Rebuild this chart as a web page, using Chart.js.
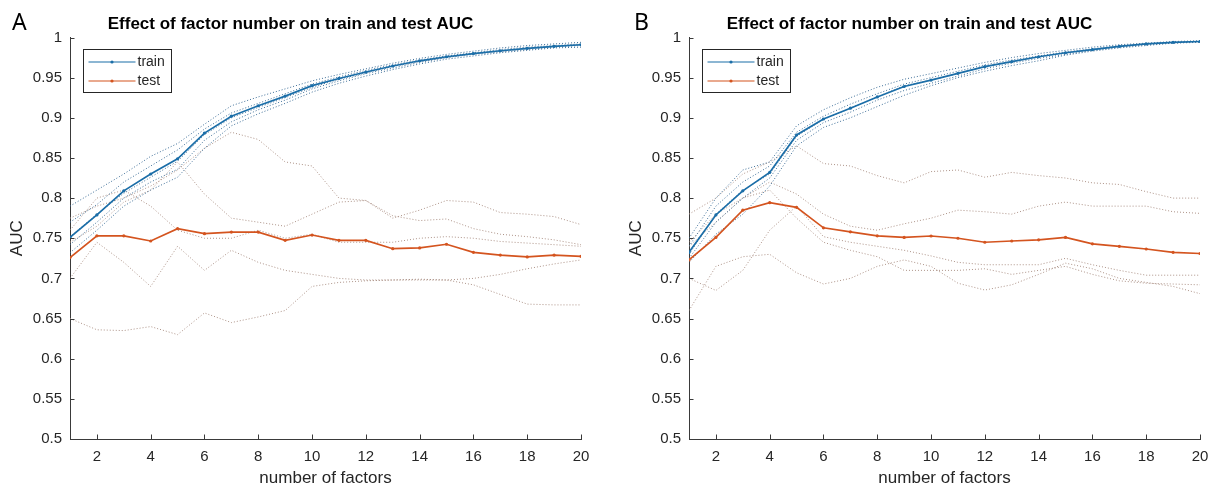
<!DOCTYPE html>
<html><head><meta charset="utf-8">
<script src="https://cdn.jsdelivr.net/npm/chart.js@4.4.1/dist/chart.umd.min.js"></script>
<style>
html,body{margin:0;padding:0;background:#fff;}
body{width:1218px;height:489px;position:relative;overflow:hidden;}
.panel{position:absolute;top:0;width:600px;height:489px;}
.letter{position:absolute;font-family:"Noto Sans",sans-serif;font-size:23px;color:#000;line-height:1;}
</style></head><body>
<div class="panel" style="left:0"><canvas id="cA" width="600" height="489"></canvas></div>
<div class="panel" style="left:619px"><canvas id="cB" width="600" height="489"></canvas></div>
<div class="letter" style="left:12px;top:10px">A</div>
<div class="letter" style="left:634px;top:10px">B</div>
<script>
// ---- data ----
const factors = [1,2,3,4,5,6,7,8,9,10,11,12,13,14,15,16,17,18,19,20];
const xTickValues = [2,4,6,8,10,12,14,16,18,20];
const yTickValues = [0.5,0.55,0.6,0.65,0.7,0.75,0.8,0.85,0.9,0.95,1];
const chartTitle = 'Effect of factor number on train and test AUC';

// Panel A
const trainMeanA = [0.751,0.779,0.809,0.830,0.849,0.881,0.902,0.915,0.927,0.940,0.949,0.957,0.9645,0.971,0.976,0.980,0.9835,0.9865,0.989,0.991];
const testMeanA  = [0.726,0.753,0.753,0.7466,0.762,0.7557,0.7577,0.7577,0.7474,0.754,0.7474,0.7474,0.737,0.738,0.7425,0.7325,0.729,0.7267,0.729,0.7275];
const trainFoldA1 = [0.790,0.810,0.830,0.852,0.868,0.892,0.915,0.926,0.936,0.946,0.954,0.961,0.968,0.974,0.979,0.983,0.987,0.990,0.992,0.994];
const trainFoldA2 = [0.770,0.792,0.820,0.840,0.860,0.886,0.906,0.918,0.930,0.942,0.951,0.959,0.966,0.972,0.977,0.981,0.985,0.988,0.990,0.992];
const trainFoldA3 = [0.752,0.780,0.806,0.826,0.846,0.879,0.900,0.913,0.925,0.938,0.948,0.956,0.964,0.970,0.975,0.980,0.983,0.986,0.989,0.991];
const trainFoldA4 = [0.742,0.770,0.800,0.820,0.836,0.872,0.895,0.910,0.922,0.936,0.946,0.955,0.962,0.969,0.975,0.979,0.982,0.985,0.988,0.990];
const trainFoldA5 = [0.732,0.760,0.790,0.810,0.826,0.862,0.890,0.905,0.918,0.932,0.943,0.952,0.960,0.967,0.973,0.977,0.981,0.984,0.987,0.988];
const testFoldA1 = [0.775,0.790,0.800,0.815,0.835,0.862,0.882,0.873,0.845,0.840,0.800,0.797,0.775,0.785,0.797,0.795,0.782,0.780,0.777,0.767];
const testFoldA2 = [0.745,0.765,0.795,0.810,0.845,0.805,0.775,0.770,0.765,0.780,0.795,0.797,0.778,0.772,0.774,0.762,0.755,0.752,0.748,0.742];
const testFoldA3 = [0.700,0.745,0.720,0.690,0.740,0.710,0.735,0.720,0.710,0.705,0.700,0.698,0.698,0.698,0.698,0.692,0.680,0.668,0.667,0.667];
const testFoldA4 = [0.650,0.636,0.635,0.640,0.630,0.657,0.645,0.652,0.660,0.690,0.695,0.697,0.698,0.699,0.698,0.700,0.705,0.712,0.718,0.723];
const testFoldA5 = [0.760,0.800,0.810,0.790,0.760,0.750,0.750,0.760,0.750,0.755,0.745,0.745,0.745,0.750,0.752,0.750,0.746,0.744,0.742,0.740];

// Panel B
const trainMeanB = [0.7325,0.779,0.809,0.832,0.8786,0.8985,0.912,0.926,0.939,0.947,0.9554,0.9637,0.970,0.976,0.981,0.985,0.989,0.992,0.994,0.995];
const testMeanB  = [0.723,0.751,0.785,0.7943,0.7885,0.763,0.758,0.753,0.751,0.7528,0.750,0.745,0.7466,0.748,0.751,0.743,0.740,0.7366,0.7325,0.731];
const trainFoldB1 = [0.750,0.800,0.835,0.845,0.890,0.910,0.925,0.938,0.948,0.955,0.962,0.969,0.975,0.980,0.984,0.988,0.991,0.993,0.995,0.996];
const trainFoldB2 = [0.740,0.790,0.820,0.840,0.882,0.902,0.917,0.930,0.942,0.950,0.958,0.966,0.972,0.977,0.982,0.986,0.990,0.992,0.994,0.995];
const trainFoldB3 = [0.730,0.780,0.810,0.830,0.877,0.898,0.912,0.926,0.940,0.947,0.955,0.964,0.970,0.976,0.981,0.985,0.989,0.992,0.994,0.995];
const trainFoldB4 = [0.725,0.770,0.800,0.825,0.872,0.894,0.907,0.922,0.934,0.943,0.952,0.961,0.968,0.974,0.979,0.984,0.988,0.991,0.993,0.995];
const trainFoldB5 = [0.720,0.755,0.780,0.815,0.865,0.888,0.900,0.914,0.928,0.940,0.950,0.958,0.965,0.971,0.978,0.983,0.987,0.990,0.993,0.994];
const testFoldB1 = [0.780,0.800,0.830,0.845,0.865,0.843,0.840,0.828,0.819,0.833,0.835,0.826,0.832,0.828,0.825,0.819,0.817,0.808,0.800,0.800];
const testFoldB2 = [0.740,0.770,0.800,0.820,0.805,0.780,0.765,0.760,0.768,0.775,0.785,0.783,0.780,0.790,0.795,0.790,0.790,0.790,0.783,0.781];
const testFoldB3 = [0.700,0.685,0.710,0.760,0.790,0.752,0.745,0.740,0.735,0.728,0.720,0.717,0.717,0.717,0.725,0.717,0.710,0.704,0.704,0.704];
const testFoldB4 = [0.660,0.715,0.727,0.730,0.707,0.693,0.700,0.715,0.723,0.715,0.694,0.6855,0.692,0.705,0.719,0.712,0.700,0.695,0.690,0.681];
const testFoldB5 = [0.745,0.780,0.800,0.810,0.775,0.745,0.735,0.727,0.710,0.710,0.710,0.712,0.705,0.710,0.715,0.705,0.697,0.694,0.693,0.692];

// ---- styles ----
const FONT = '"Liberation Sans", Arial, Helvetica, sans-serif';
const TEXT = '#262626';
const AXIS = '#3a3a3a';
const TRAIN_COLOR = '#1b6ea8';
const TEST_COLOR = '#d4541f';
const TRAIN_FOLD = '#3f6f98';
const TEST_FOLD = '#ad9388';

const decor = {
  id: 'decor',
  afterDraw(chart) {
    const {ctx, chartArea: a, scales: {x, y}} = chart;
    ctx.save();
    ctx.strokeStyle = AXIS; ctx.lineWidth = 1;
    ctx.beginPath();
    x.ticks.forEach(t => { const px = Math.round(x.getPixelForValue(t.value)) + 0.5; ctx.moveTo(px, a.bottom); ctx.lineTo(px, a.bottom - 4.5); });
    y.ticks.forEach(t => { const py = Math.round(y.getPixelForValue(t.value)) + 0.5; ctx.moveTo(a.left, py); ctx.lineTo(a.left + 4.5, py); });
    ctx.stroke();
    // legend
    const bx = Math.round(a.left + 13) + 0.5, by = Math.round(a.top + 11) + 0.5, bw = 88, bh = 43;
    ctx.fillStyle = '#fff'; ctx.fillRect(bx, by, bw, bh);
    ctx.strokeStyle = TEXT; ctx.strokeRect(bx, by, bw, bh);
    const items = chart.data.datasets.slice(0, 2);
    items.forEach((ds, i) => {
      const cy = by + 12.5 + i * 19;
      ctx.strokeStyle = ds.borderColor; ctx.lineWidth = 1.2;
      ctx.beginPath(); ctx.moveTo(bx + 5, cy); ctx.lineTo(bx + 52, cy); ctx.stroke();
      ctx.fillStyle = ds.borderColor;
      ctx.beginPath(); ctx.arc(bx + 28.5, cy, 1.6, 0, Math.PI * 2); ctx.fill();
      ctx.fillStyle = TEXT; ctx.font = '14px ' + FONT; ctx.textBaseline = 'middle'; ctx.textAlign = 'left';
      ctx.fillText(ds.label, bx + 54, cy);
    });
    ctx.restore();
  }
};

function makeChart(id, trainMean, testMean, trainFolds, testFolds) {
  const pts = arr => factors.map((xv, i) => ({x: xv, y: arr[i]}));
  const datasets = [
    {label: 'train', data: pts(trainMean), borderColor: TRAIN_COLOR, backgroundColor: TRAIN_COLOR, borderWidth: 1.7, pointRadius: 1.6, pointBorderWidth: 0, pointHoverRadius: 0},
    {label: 'test', data: pts(testMean), borderColor: TEST_COLOR, backgroundColor: TEST_COLOR, borderWidth: 1.7, pointRadius: 1.6, pointBorderWidth: 0, pointHoverRadius: 0},
    ...trainFolds.map(f => ({label: 'train fold', data: pts(f), borderColor: TRAIN_FOLD, borderWidth: 1, borderDash: [1, 2], pointRadius: 0})),
    ...testFolds.map(f => ({label: 'test fold', data: pts(f), borderColor: TEST_FOLD, borderWidth: 1, borderDash: [1, 2], pointRadius: 0}))
  ];
  return new Chart(document.getElementById(id), {
    type: 'line',
    data: {datasets},
    options: {
      responsive: false, animation: false, events: [],
      layout: {padding: {left: 0, right: 19, top: 0, bottom: 0}},
      plugins: {
        legend: {display: false}, tooltip: {enabled: false},
        title: {display: true, text: chartTitle, color: '#000', font: {family: FONT, size: 17, weight: 'bold'}, padding: {top: 13.8, bottom: 3.3}}
      },
      scales: {
        x: {
          type: 'linear', min: 1, max: 20,
          afterBuildTicks: s => { s.ticks = xTickValues.map(v => ({value: v})); },
          afterFit: s => { s.height = 50; },
          grid: {display: false, drawTicks: false}, border: {display: true, color: AXIS, width: 1},
          ticks: {padding: 9, color: TEXT, font: {family: FONT, size: 15}, maxRotation: 0, autoSkip: false},
          title: {display: true, text: 'number of factors', color: TEXT, font: {family: FONT, size: 17}, padding: {top: 0, bottom: 0}}
        },
        y: {
          type: 'linear', min: 0.5, max: 1,
          afterBuildTicks: s => { s.ticks = yTickValues.map(v => ({value: v})); },
          afterFit: s => { s.width = 70; },
          grid: {display: false, drawTicks: false}, border: {display: true, color: AXIS, width: 1},
          ticks: {padding: 8, color: TEXT, font: {family: FONT, size: 15}, callback: v => String(+Number(v).toFixed(2))},
          title: {display: true, text: 'AUC', color: TEXT, font: {family: FONT, size: 17}, padding: {top: 7, bottom: 0}}
        }
      }
    },
    plugins: [decor]
  });
}

makeChart('cA', trainMeanA, testMeanA,
  [trainFoldA1, trainFoldA2, trainFoldA3, trainFoldA4, trainFoldA5],
  [testFoldA1, testFoldA2, testFoldA3, testFoldA4, testFoldA5]);
makeChart('cB', trainMeanB, testMeanB,
  [trainFoldB1, trainFoldB2, trainFoldB3, trainFoldB4, trainFoldB5],
  [testFoldB1, testFoldB2, testFoldB3, testFoldB4, testFoldB5]);
</script>
</body></html>
